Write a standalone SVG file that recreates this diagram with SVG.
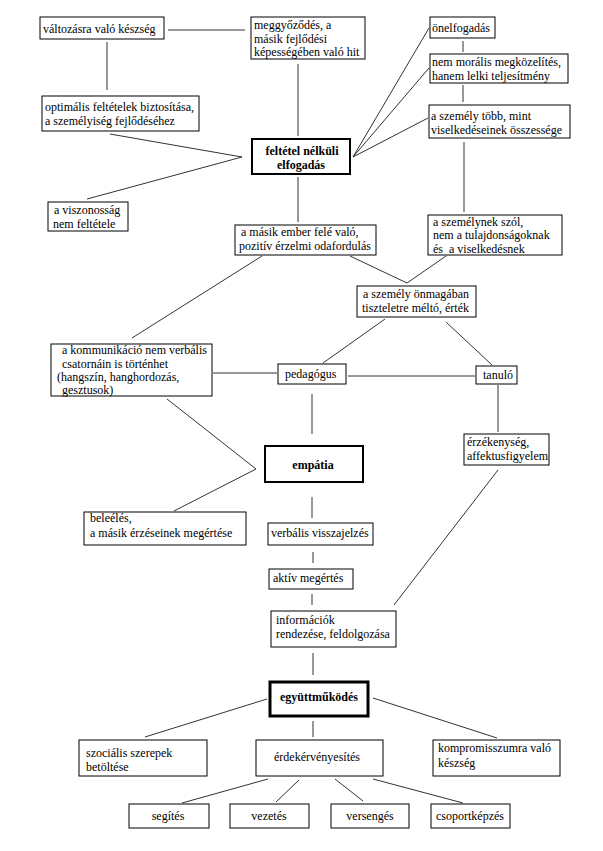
<svg xmlns="http://www.w3.org/2000/svg" width="603" height="851" viewBox="0 0 603 851">
<style>
rect{fill:#fff;stroke:#000;stroke-width:1}
rect.b2{stroke-width:2}
rect.b3{stroke-width:3}
text{font-family:"Liberation Serif","Times New Roman",serif;font-size:12px;fill:#000}
text.b{font-weight:bold;text-anchor:middle}
text.m{text-anchor:middle}
#connectors line,#connectors polyline{stroke:#333;stroke-width:1;fill:none}
</style>
<rect x="0" y="0" width="603" height="851" style="fill:#fff;stroke:none"/>
<g id="connectors">
<line x1="168" y1="30" x2="245" y2="30"/>
<line x1="107" y1="42" x2="107" y2="90"/>
<line x1="298" y1="64" x2="298" y2="136"/>
<polyline points="110,134 242,157 87,199"/>
<line x1="298" y1="177" x2="298" y2="222"/>
<line x1="353" y1="157" x2="429" y2="28"/>
<line x1="353" y1="157" x2="429" y2="68"/>
<line x1="353" y1="157" x2="428" y2="118"/>
<line x1="463" y1="41" x2="463" y2="52"/>
<line x1="463" y1="85" x2="463" y2="102"/>
<line x1="464" y1="142" x2="464" y2="212"/>
<polyline points="350,256 407,283 446,256"/>
<line x1="262" y1="256" x2="132" y2="338"/>
<line x1="385" y1="319" x2="323" y2="363"/>
<line x1="446" y1="322" x2="492" y2="365"/>
<line x1="213" y1="373" x2="277" y2="373"/>
<line x1="348" y1="376" x2="475" y2="376"/>
<polyline points="167,399 256,469 174,511"/>
<line x1="312" y1="394" x2="312" y2="434"/>
<line x1="498" y1="385" x2="498" y2="432"/>
<line x1="498" y1="470" x2="394" y2="605"/>
<line x1="312" y1="497" x2="312" y2="518"/>
<line x1="313" y1="552" x2="313" y2="563"/>
<line x1="312" y1="594" x2="312" y2="605"/>
<line x1="313" y1="653" x2="313" y2="675"/>
<line x1="267" y1="699" x2="145" y2="737"/>
<line x1="373" y1="698" x2="497" y2="738"/>
<line x1="313" y1="721" x2="313" y2="737"/>
<line x1="268" y1="779" x2="182" y2="803"/>
<line x1="299" y1="780" x2="276" y2="802"/>
<line x1="335" y1="779" x2="363" y2="801"/>
<line x1="373" y1="779" x2="463" y2="803"/>
</g>
<g id="n_valtozas"><rect x="40" y="17" width="124" height="22"/><text x="43" y="33">változásra való készség</text></g>
<g id="n_meggyozodes"><rect x="251" y="17" width="114" height="42"/><text x="254" y="29">meggyőződés, a</text><text x="254" y="42.5">másik fejlődési</text><text x="254" y="56">képességében való hit</text></g>
<g id="n_optimalis"><rect x="42" y="96" width="157" height="35"/><text x="45" y="111">optimális feltételek biztosítása,</text><text x="45" y="125">a személyiség fejlődéséhez</text></g>
<g id="n_feltetel"><rect class="b2" x="252" y="139" width="98" height="35"/><text class="b" x="302" y="155">feltétel nélküli</text><text class="b" x="301" y="169">elfogadás</text></g>
<g id="n_viszonossag"><rect x="48" y="202" width="80" height="29"/><text x="54" y="214">a viszonosság</text><text x="53" y="227.5">nem feltétele</text></g>
<g id="n_onelfogadas"><rect x="430" y="17" width="65" height="21"/><text x="432" y="32">önelfogadás</text></g>
<g id="n_nemmoralis"><rect x="430" y="54" width="138" height="29"/><text x="432" y="66">nem morális megközelítés,</text><text x="432" y="79.5">hanem lelki teljesítmény</text></g>
<g id="n_tobb"><rect x="429" y="105" width="141" height="33"/><text x="431" y="120">a személy több, mint</text><text x="431" y="134">viselkedéseinek összessége</text></g>
<g id="n_masikember"><rect x="235" y="225" width="141" height="30"/><text x="241" y="236">a másik ember felé való,</text><text x="239" y="249.5">pozitív érzelmi odafordulás</text></g>
<g id="n_szemelynek"><rect x="428" y="215" width="134" height="40"/><text x="433" y="225.5">a személynek szól,</text><text x="433" y="239">nem a tulajdonságoknak</text><text x="433" y="252.5" xml:space="preserve">és  a viselkedésnek</text></g>
<g id="n_onmagaban"><rect x="357" y="286" width="119" height="31"/><text x="363" y="298">a személy önmagában</text><text x="362" y="311.5">tiszteletre méltó, érték</text></g>
<g id="n_kommunikacio"><rect x="51" y="344" width="161" height="52"/><text x="62" y="354">a kommunikáció nem verbális</text><text x="62" y="367.5">csatornáin is történhet</text><text x="57" y="381">(hangszín, hanghordozás,</text><text x="62" y="394">gesztusok)</text></g>
<g id="n_pedagogus"><rect x="278" y="364" width="68" height="20"/><text x="285" y="378">pedagógus</text></g>
<g id="n_tanulo"><rect x="476" y="366" width="41" height="18"/><text x="483" y="379">tanuló</text></g>
<g id="n_empatia"><rect class="b2" x="265" y="446" width="98" height="36"/><text class="b" x="313" y="469">empátia</text></g>
<g id="n_erzekenyseg"><rect x="464" y="434" width="85" height="31"/><text x="467" y="446">érzékenység,</text><text x="467" y="459.5">affektusfigyelem</text></g>
<g id="n_beleeles"><rect x="84" y="512" width="162" height="33"/><text x="90" y="522">beleélés,</text><text x="90" y="537">a másik érzéseinek megértése</text></g>
<g id="n_verbalis"><rect x="268" y="523" width="105" height="22"/><text x="271" y="537">verbális visszajelzés</text></g>
<g id="n_aktiv"><rect x="269" y="569" width="84" height="20"/><text x="273" y="582">aktív megértés</text></g>
<g id="n_informaciok"><rect x="271" y="611" width="125" height="36"/><text x="276" y="624">információk</text><text x="276" y="638">rendezése, feldolgozása</text></g>
<g id="n_egyuttmukodes"><rect class="b3" x="270" y="682" width="98" height="34"/><text class="b" x="319" y="701">együttműködés</text></g>
<g id="n_szocialis"><rect x="79" y="740" width="128" height="36"/><text x="86" y="757">szociális szerepek</text><text x="86" y="770.5">betöltése</text></g>
<g id="n_erdek"><rect x="256" y="740" width="127" height="36"/><text class="m" x="317" y="761">érdekérvényesítés</text></g>
<g id="n_kompromisszum"><rect x="433" y="740" width="127" height="36"/><text x="438" y="752">kompromisszumra való</text><text x="438" y="767">készség</text></g>
<g id="n_segites"><rect x="129" y="804" width="80" height="24"/><text class="m" x="168" y="820">segítés</text></g>
<g id="n_vezetes"><rect x="230" y="804" width="79" height="24"/><text class="m" x="269" y="820">vezetés</text></g>
<g id="n_versenges"><rect x="331" y="804" width="78" height="24"/><text class="m" x="370" y="820">versengés</text></g>
<g id="n_csoportkepzes"><rect x="431" y="804" width="79" height="24"/><text class="m" x="470" y="820">csoportképzés</text></g>
</svg>
